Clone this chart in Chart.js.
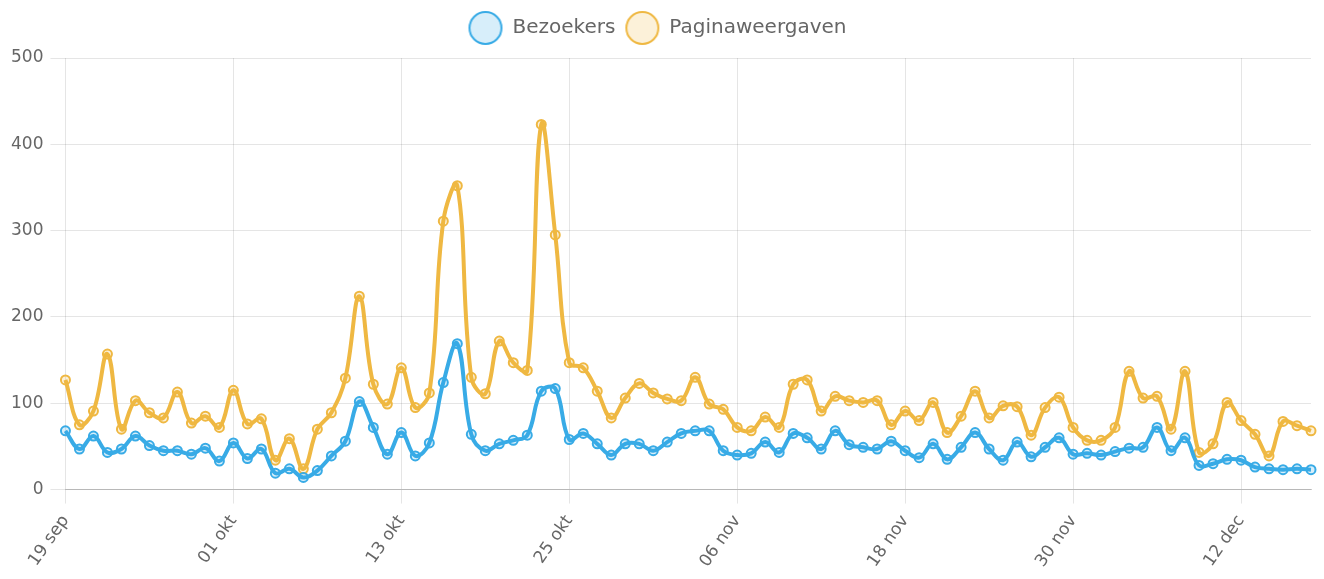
<!DOCTYPE html>
<html>
<head>
<meta charset="utf-8">
<script src="https://cdn.jsdelivr.net/npm/chart.js@4/dist/chart.umd.min.js"></script>
<style>
    html, body { margin: 0; padding: 0; background: #fff; }
    #wrap { width: 1324px; height: 579px; }
</style>
</head>
<body>
<div id="wrap"><canvas id="visitorsChart"></canvas></div>
<script>
// Daily labels, 19 sep - 17 dec
const dayLabels = [
    '19 sep', '20 sep', '21 sep', '22 sep', '23 sep', '24 sep', '25 sep', '26 sep', '27 sep', '28 sep', '29 sep', '30 sep',
    '01 okt', '02 okt', '03 okt', '04 okt', '05 okt', '06 okt', '07 okt', '08 okt', '09 okt', '10 okt', '11 okt', '12 okt',
    '13 okt', '14 okt', '15 okt', '16 okt', '17 okt', '18 okt', '19 okt', '20 okt', '21 okt', '22 okt', '23 okt', '24 okt',
    '25 okt', '26 okt', '27 okt', '28 okt', '29 okt', '30 okt', '31 okt', '01 nov', '02 nov', '03 nov', '04 nov', '05 nov',
    '06 nov', '07 nov', '08 nov', '09 nov', '10 nov', '11 nov', '12 nov', '13 nov', '14 nov', '15 nov', '16 nov', '17 nov',
    '18 nov', '19 nov', '20 nov', '21 nov', '22 nov', '23 nov', '24 nov', '25 nov', '26 nov', '27 nov', '28 nov', '29 nov',
    '30 nov', '01 dec', '02 dec', '03 dec', '04 dec', '05 dec', '06 dec', '07 dec', '08 dec', '09 dec', '10 dec', '11 dec',
    '12 dec', '13 dec', '14 dec', '15 dec', '16 dec', '17 dec'
];

// Only these dates get a tick label (and grid line)
const tickLabels = ['19 sep', '01 okt', '13 okt', '25 okt', '06 nov', '18 nov', '30 nov', '12 dec'];

const visitors = [
    68, 47, 62, 43, 47, 62, 51, 45, 45, 41, 48, 33,
    54, 36, 47, 19, 24, 14, 22, 39, 56, 102, 72, 41,
    66, 39, 54, 124, 169, 64, 45, 53, 57, 63, 114, 117,
    58, 65, 53, 40, 53, 53, 45, 55, 65, 68, 68, 45,
    40, 42, 55, 43, 65, 60, 47, 68, 52, 49, 47, 56,
    45, 37, 53, 35, 49, 66, 47, 34, 55, 38, 49, 60,
    41, 42, 40, 44, 48, 49, 72, 45, 60, 28, 30, 35,
    34, 26, 24, 23, 24, 23
];

const pageViews = [
    127, 75, 91, 157, 70, 103, 89, 83, 113, 77, 85, 72,
    115, 76, 82, 34, 59, 24, 70, 89, 129, 224, 122, 99,
    141, 95, 112, 311, 352, 130, 111, 172, 147, 138, 423, 295,
    147, 141, 114, 83, 106, 123, 112, 105, 103, 130, 99, 93,
    72, 68, 84, 72, 122, 127, 91, 108, 103, 101, 103, 75,
    91, 80, 101, 66, 85, 114, 83, 97, 96, 63, 95, 107,
    72, 57, 57, 72, 137, 106, 108, 70, 137, 43, 53, 101,
    80, 64, 39, 79, 74, 68
];

const yTicks = [0, 100, 200, 300, 400, 500];

const BLUE = 'rgb(56, 171, 230)';
const BLUE_FILL = 'rgba(56, 171, 230, 0.2)';
const ORANGE = 'rgb(239, 184, 66)';
const ORANGE_FILL = 'rgba(239, 184, 66, 0.2)';
const FONT = 'DejaVu Sans, Liberation Sans, sans-serif';

// big legend circles, drawn on a small canvas
function legendCircle(stroke, fill) {
    const c = document.createElement('canvas');
    c.width = 36;
    c.height = 36;
    const g = c.getContext('2d');
    g.beginPath();
    g.arc(18, 18, 16, 0, Math.PI * 2);
    g.fillStyle = fill;
    g.fill();
    g.lineWidth = 2;
    g.strokeStyle = stroke;
    g.stroke();
    return c;
}

function makeDataset(label, data, color, fill) {
    return {
        label: label,
        data: data,
        borderColor: color,
        backgroundColor: fill,
        borderWidth: 4,
        pointRadius: 4.5,
        pointBorderWidth: 2,
        pointBackgroundColor: fill,
        pointBorderColor: color,
        tension: 0.4,
        fill: false
    };
}

// extra room between legend and plot
const legendMargin = {
    id: 'legendMargin',
    beforeInit(chart) {
        const origFit = chart.legend.fit;
        chart.legend.fit = function () {
            origFit.bind(chart.legend)();
            this.height += 10;
        };
    }
};

const ctx = document.getElementById('visitorsChart');
new Chart(ctx, {
    type: 'line',
    data: {
        labels: dayLabels,
        datasets: [
            makeDataset('Bezoekers', visitors, BLUE, BLUE_FILL),
            makeDataset('Paginaweergaven', pageViews, ORANGE, ORANGE_FILL)
        ]
    },
    plugins: [legendMargin],
    options: {
        responsive: true,
        maintainAspectRatio: false,
        animation: false,
        layout: {
            padding: { left: 4, right: 13, top: 8, bottom: 0 }
        },
        plugins: {
            legend: {
                position: 'top',
                labels: {
                    color: '#666',
                    font: { family: FONT, size: 20 },
                    usePointStyle: true,
                    pointStyleWidth: 34,
                    padding: 10,
                    generateLabels: (chart) => {
                        const items = Chart.defaults.plugins.legend.labels.generateLabels(chart);
                        items.forEach((item, i) => {
                            item.pointStyle = i === 0
                                ? legendCircle(BLUE, BLUE_FILL)
                                : legendCircle(ORANGE, ORANGE_FILL);
                        });
                        return items;
                    }
                }
            },
            tooltip: { enabled: false }
        },
        scales: {
            x: {
                grid: {
                    color: 'rgba(0, 0, 0, 0.1)',
                    tickLength: 14
                },
                border: { color: 'rgba(0, 0, 0, 0.2)' },
                ticks: {
                    autoSkip: false,
                    minRotation: 55,
                    maxRotation: 55,
                    padding: 8,
                    color: '#666',
                    font: { family: FONT, size: 17 },
                    callback: function (value) {
                        const lbl = this.getLabelForValue(value);
                        return tickLabels.includes(lbl) ? lbl : null;
                    }
                }
            },
            y: {
                min: yTicks[0],
                max: yTicks[yTicks.length - 1],
                grid: {
                    color: 'rgba(0, 0, 0, 0.1)',
                    tickLength: 15
                },
                border: { display: false },
                ticks: {
                    stepSize: 100,
                    padding: 7,
                    color: '#666',
                    font: { family: FONT, size: 17 }
                }
            }
        }
    }
});
</script>
</body>
</html>
